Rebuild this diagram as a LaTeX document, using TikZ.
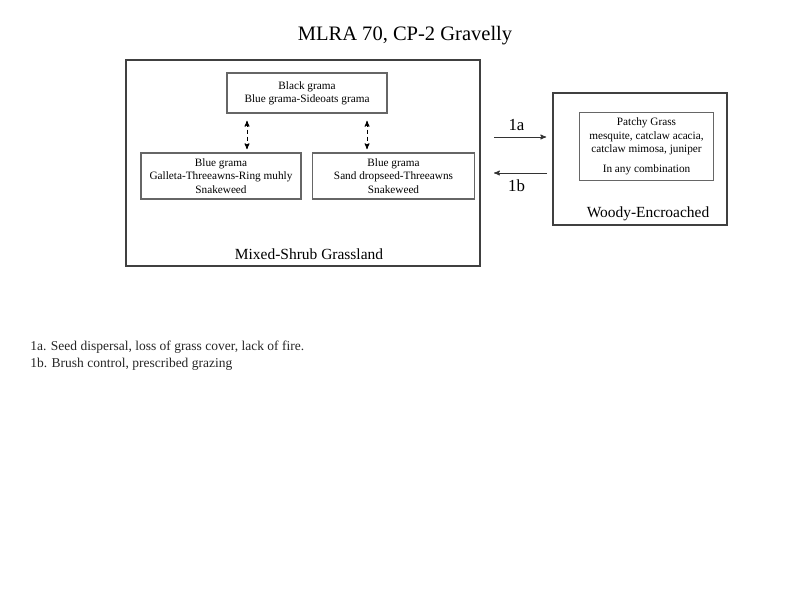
\documentclass[tikz,border=0pt]{standalone}
\usepackage{fontspec}
\setmainfont{Liberation Serif}
\usetikzlibrary{arrows,calc}
\usetikzlibrary{positioning}
\tikzset{
    region/.style={
           rectangle,
           draw=black!75, line width=1.1pt,
           inner sep=0pt,
           },
    community/.style={
           rectangle,
           draw=black!60, line width=0.8pt,
           inner sep=1pt,
           align=center,
           text centered,
           font=\fontsize{8}{9.5}\selectfont,
           },
    caption/.style={font=\fontsize{11}{13}\selectfont},
    transition/.style={->, line width=0.6pt, draw=black!80},
}

\begin{document}
\begin{tikzpicture}[->,>=stealth', x=0.025cm, y=-0.025cm]
\useasboundingbox (0,0) rectangle (800,600);
\node[font=\fontsize{14.6}{17}\selectfont] (title) at (405,36) {MLRA 70, CP-2 Gravelly};
\node[region, minimum width=8.85cm, minimum height=5.15cm] (mixed) at (303,163) {};
\node[region, minimum width=4.35cm, minimum height=3.3cm] (woody) at (640,159) {};
\node[community, minimum width=4cm, minimum height=1cm] (bg) at (307,93) {Black grama\\Blue grama-Sideoats grama};
\node[community, minimum width=4cm, minimum height=1.15cm] (gt) at (221,176) {Blue grama\\Galleta-Threeawns-Ring muhly\\Snakeweed};
\node[community, minimum width=4.03cm, minimum height=1.15cm] (sd) at (393.5,176) {Blue grama\\Sand dropseed-Threeawns\\Snakeweed};
\node[community, minimum width=3.33cm, minimum height=1.68cm] (pg) at (646.5,146.5) {Patchy Grass\\mesquite, catclaw acacia,\\catclaw mimosa, juniper\\[5pt]In any combination};
\node[caption] (mixedlab) at (309,254) {Mixed-Shrub Grassland};
\node[caption] (woodylab) at (648,214) {Woody-Encroached};
 \draw[<->, densely dashed, line width=0.6pt, shorten <=0.18cm, shorten >=0.08cm] ([xshift=-1.5cm]bg.south) -- ([xshift=-1.5cm]bg.south |- gt.north);
 \draw[<->, densely dashed, line width=0.6pt, shorten <=0.18cm, shorten >=0.08cm] ([xshift=1.5cm]bg.south) -- ([xshift=1.5cm]bg.south |- sd.north);
 \draw[transition, shorten <=0.33cm, shorten >=0.15cm] (mixed.east |- 0,137) -- node[above=1pt, font=\fontsize{12}{14}\selectfont]{1a} (woody.west |- 0,137);
 \draw[transition, shorten <=0.13cm, shorten >=0.33cm] (woody.west |- 0,173) -- node[below=1pt, font=\fontsize{12}{14}\selectfont]{1b} (mixed.east |- 0,173);
\node[anchor=north west, align=left, inner sep=0pt, text=black!85, font=\fontsize{9.6}{12}\selectfont] (notes) at (30,341) {1a. Seed dispersal, loss of grass cover, lack of fire.\\1b. Brush control, prescribed grazing};
\end{tikzpicture}
\end{document}
